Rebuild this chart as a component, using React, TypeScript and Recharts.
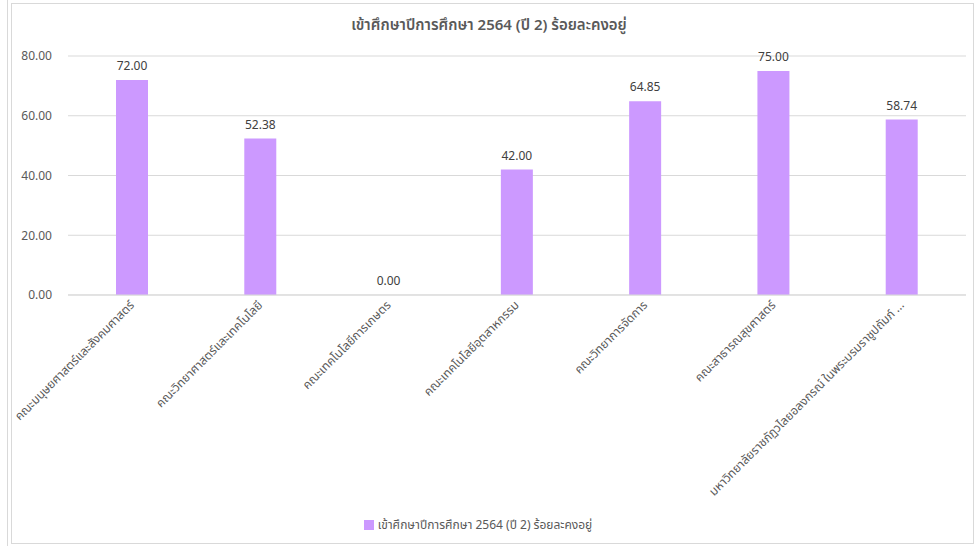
import { BarChart, Bar, XAxis, YAxis, CartesianGrid, Legend, LabelList } from 'recharts';

const seriesName = 'เข้าศึกษาปีการศึกษา 2564 (ปี 2) ร้อยละคงอยู่';

const faculties = [
  'คณะมนุษยศาสตร์และสังคมศาสตร์',
  'คณะวิทยาศาสตร์และเทคโนโลยี',
  'คณะเทคโนโลยีการเกษตร',
  'คณะเทคโนโลยีอุตสาหกรรม',
  'คณะวิทยาการจัดการ',
  'คณะสาธารณสุขศาสตร์',
  'มหาวิทยาลัยราชภัฏวไลยอลงกรณ์ ในพระบรมราชูปถัมภ์ จังหวัดปทุมธานี',
];

const retention = [72.0, 52.38, 0.0, 42.0, 64.85, 75.0, 58.74];

const yTicks = [0, 20, 40, 60, 80];

const data = faculties.map((name, i) => ({ name, value: retention[i] }));

const FONT = '"Segoe UI", "Noto Sans", "Noto Sans Thai", Tahoma, sans-serif';
const BAR_COLOR = '#cc99ff';

function shorten(label: string) {
  return label.length > 49 ? label.slice(0, 48) + '...' : label;
}

function AngledTick({ x, y, payload }: any) {
  return (
    <g transform={`translate(${x},${y})`}>
      <text
        x={0}
        y={0}
        dy={4}
        textAnchor="end"
        fill="#595959"
        fontSize={12}
        fontFamily={FONT}
        transform="rotate(-45)"
      >
        {shorten(payload.value)}
      </text>
    </g>
  );
}

// draws the value above each bar
function ValueLabel({ x, y, width, value }: any) {
  return (
    <text
      x={Number(x) + Number(width) / 2}
      y={Number(y) - 10}
      textAnchor="middle"
      fill="#404040"
      fontSize={12}
      fontFamily={FONT}
    >
      {Number(value).toFixed(2)}
    </text>
  );
}

// zero bars get a hair-thin height so their label is still placed
const minHeight = (v: any) => (Number(v) === 0 ? 0.01 : 0);

export default function App() {
  return (
    <div style={{ position: 'fixed', left: 0, top: 0, width: 978, height: 546, background: '#fff' }}>
      <div style={{ position: 'absolute', left: 7, top: 0, width: 1, height: 546, background: '#d9d9d9' }} />
      <div
        style={{
          position: 'absolute',
          left: 11,
          top: 3,
          width: 963,
          height: 541,
          border: '1px solid #d9d9d9',
          boxSizing: 'border-box',
        }}
      />
      <div
        style={{
          position: 'absolute',
          left: 0,
          top: 14,
          width: 978,
          textAlign: 'center',
          fontFamily: FONT,
          fontSize: 15,
          fontWeight: 600,
          color: '#595959',
        }}
      >
        {seriesName}
      </div>
      <div style={{ position: 'absolute', left: 0, top: 0 }}>
        <BarChart width={978} height={546} data={data} margin={{ top: 56, right: 12, bottom: 12, left: 0 }}>
          <CartesianGrid vertical={false} stroke="#d9d9d9" />
          <XAxis
            dataKey="name"
            interval={0}
            height={220}
            tickLine={false}
            axisLine={{ stroke: '#d9d9d9' }}
            tick={<AngledTick />}
          />
          <YAxis
            width={68}
            domain={[0, 80]}
            ticks={yTicks}
            tickFormatter={(v: number) => v.toFixed(2)}
            axisLine={false}
            tickLine={false}
            tickMargin={10}
            tick={{ fill: '#595959', fontSize: 12, fontFamily: FONT }}
          />
          <Legend
            verticalAlign="bottom"
            iconType="square"
            iconSize={10}
            formatter={(v: string) => <span style={{ color: '#595959', fontSize: 12, fontFamily: FONT }}>{v}</span>}
          />
          <Bar dataKey="value" name={seriesName} fill={BAR_COLOR} barSize={32} minPointSize={minHeight} isAnimationActive={false}>
            <LabelList dataKey="value" content={<ValueLabel />} />
          </Bar>
        </BarChart>
      </div>
    </div>
  );
}
